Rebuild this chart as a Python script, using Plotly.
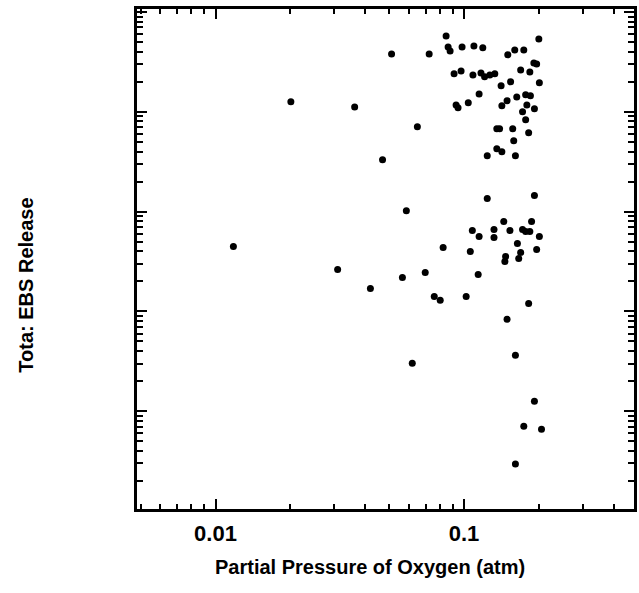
import plotly.graph_objects as go

# Partial pressure of oxygen (atm)
po2 = [
    0.0201, 0.0363, 0.0511, 0.0724, 0.0847, 0.0863, 0.0879, 0.0982, 0.1096, 0.119,
    0.150, 0.160, 0.174, 0.200, 0.0912, 0.0973, 0.1086, 0.117, 0.121, 0.127,
    0.133, 0.141, 0.154, 0.169, 0.184, 0.191, 0.196, 0.201, 0.115, 0.0929,
    0.0946, 0.104, 0.142, 0.149, 0.163, 0.177, 0.185, 0.179, 0.192, 0.172,
    0.177, 0.0649, 0.1355, 0.139, 0.157, 0.182, 0.1585, 0.1355, 0.142, 0.124,
    0.161, 0.047,
    0.124, 0.192, 0.0586, 0.1445, 0.187, 0.108, 0.132, 0.153, 0.172, 0.177,
    0.184, 0.115, 0.132, 0.201, 0.164, 0.0824, 0.106, 0.196, 0.147, 0.146,
    0.169, 0.166, 0.0118, 0.114, 0.0565, 0.0698, 0.031, 0.042, 0.0759, 0.0802,
    0.102, 0.182, 0.149, 0.161, 0.0619, 0.192, 0.174, 0.205, 0.161,
]

# Total EBS release
release = [
    12600, 11200, 38000, 38000, 57500, 44700, 40700, 44700, 45700, 43700,
    37200, 41700, 41700, 53700, 24000, 25700, 23400, 24500, 22400, 23400,
    24000, 18200, 20000, 26300, 25100, 30900, 30200, 19500, 15100, 11700,
    11000, 12300, 11500, 12900, 14100, 14800, 14500, 11700, 10700, 10000,
    8300, 7080, 6760, 6760, 6760, 6170, 5130, 4270, 3980, 3630,
    3630, 3310,
    1350, 1450, 1020, 794, 794, 646, 661, 646, 661, 631,
    631, 562, 550, 562, 479, 437, 398, 417, 355, 316,
    389, 339, 447, 234, 219, 245, 263, 170, 141, 129,
    141, 120, 83.2, 36.3, 30.2, 12.6, 7.08, 6.61, 2.95,
]

x_tickvals = [0.01, 0.1]
x_ticktext = ["0.01", "0.1"]
x_title = "Partial Pressure of Oxygen (atm)"
y_title = "Tota: EBS Release"

FONT = "Liberation Sans"
X_RANGE = [-2.316, -0.316]
Y_RANGE = [0.02, 5.03]

fig = go.Figure()
fig.add_trace(go.Scatter(
    x=po2, y=release, mode="markers",
    marker=dict(color="black", size=7),
    showlegend=False,
))
# invisible copy bound to the top/right axes so their ticks get drawn
fig.add_trace(go.Scatter(
    x=po2, y=release, mode="markers", xaxis="x2", yaxis="y2",
    marker=dict(color="black", size=7, opacity=0),
    showlegend=False, hoverinfo="skip",
))

fig.update_layout(
    xaxis=dict(
        type="log", range=X_RANGE,
        tickvals=x_tickvals, ticktext=x_ticktext,
        tickfont=dict(family=FONT, size=22, color="black", weight="bold"),
        ticklabelstandoff=3,
        ticks="inside", ticklen=10, tickwidth=2, tickcolor="black",
        minor=dict(ticks="inside", ticklen=5, tickwidth=2, tickcolor="black", dtick="D1"),
        showline=True, linecolor="black", linewidth=2.5, mirror="allticks",
        showgrid=False, zeroline=False,
    ),
    yaxis=dict(
        type="log", range=Y_RANGE, dtick=1, showticklabels=False,
        ticks="inside", ticklen=10, tickwidth=2, tickcolor="black",
        minor=dict(ticks="inside", ticklen=6, tickwidth=2, tickcolor="black", dtick="D1"),
        showline=True, linecolor="black", linewidth=2.5, mirror="allticks",
        showgrid=False, zeroline=False,
    ),
    xaxis2=dict(
        type="log", range=X_RANGE, overlaying="x", side="top", anchor="y",
        tickvals=x_tickvals, showticklabels=False,
        ticks="inside", ticklen=10, tickwidth=2, tickcolor="black",
        minor=dict(ticks="inside", ticklen=5, tickwidth=2, tickcolor="black", dtick="D1"),
    ),
    yaxis2=dict(
        type="log", range=Y_RANGE, overlaying="y", side="right", anchor="x",
        dtick=1, showticklabels=False,
        ticks="inside", ticklen=10, tickwidth=2, tickcolor="black",
        minor=dict(ticks="inside", ticklen=6, tickwidth=2, tickcolor="black", dtick="D1"),
    ),
)

fig.add_annotation(
    text=x_title, xref="paper", yref="paper", x=0.469, y=-0.116,
    xanchor="center", yanchor="middle", showarrow=False,
    font=dict(family=FONT, size=20, color="black", weight="bold"),
)
fig.add_annotation(
    text=y_title, xref="paper", yref="paper", x=-0.224, y=0.448,
    xanchor="center", yanchor="middle", showarrow=False, textangle=-90,
    font=dict(family=FONT, size=20, color="black", weight="bold"),
)

fig.update_layout(
    width=639, height=593,
    margin=dict(l=137, r=2, t=9, b=84),
    paper_bgcolor="white", plot_bgcolor="white",
)

fig.write_html("out.html")
